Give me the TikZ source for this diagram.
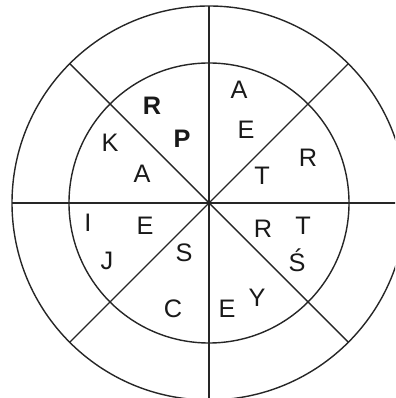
\documentclass[tikz,border=0pt]{standalone}
\usepackage{fontspec}
\setmainfont{Liberation Sans}
\begin{document}
\begin{tikzpicture}[x=0.025cm,y=0.025cm, line width=1pt, draw=black!85,
  letter/.style={anchor=base, inner sep=0pt, text=black!90, font=\fontsize{18}{18}\selectfont},
  boldletter/.style={letter, font=\fontsize{18}{18}\selectfont\bfseries}]
\useasboundingbox (-209,-195) rectangle (186,203);
\clip (-209,-195) rectangle (186,203);
\coordinate (o) at (0,0);
\draw (o) circle (197);
\draw (o) circle (140);
\foreach \a in {0,45,...,315}
  \draw (o) -- (\a:197);
% upper left sector
\node[boldletter] (r1) at (-57,88) {R};
\node[boldletter] (p1) at (-27,55) {P};
\node[letter] (k1) at (-99,51) {K};
\node[letter] (a1) at (-67,20) {A};
% upper right sector
\node[letter] (a2) at (30,104) {A};
\node[letter] (e1) at (37,64) {E};
\node[letter] (t1) at (53,18) {T};
\node[letter] (r2) at (99,36) {R};
% lower left sector
\node[letter] (i1) at (-121,-29) {I};
\node[letter] (e2) at (-64,-32) {E};
\node[letter] (j1) at (-102,-67) {J};
\node[letter] (s1) at (-25,-59) {S};
\node[letter] (c1) at (-36,-115) {C};
% lower right sector
\node[letter] (e3) at (18,-115) {E};
\node[letter] (y1) at (48,-104) {Y};
\node[letter] (r3) at (54,-35) {R};
\node[letter] (t2) at (94,-32) {T};
\node[letter] (s2) at (88,-69) {Ś};
\end{tikzpicture}
\end{document}
